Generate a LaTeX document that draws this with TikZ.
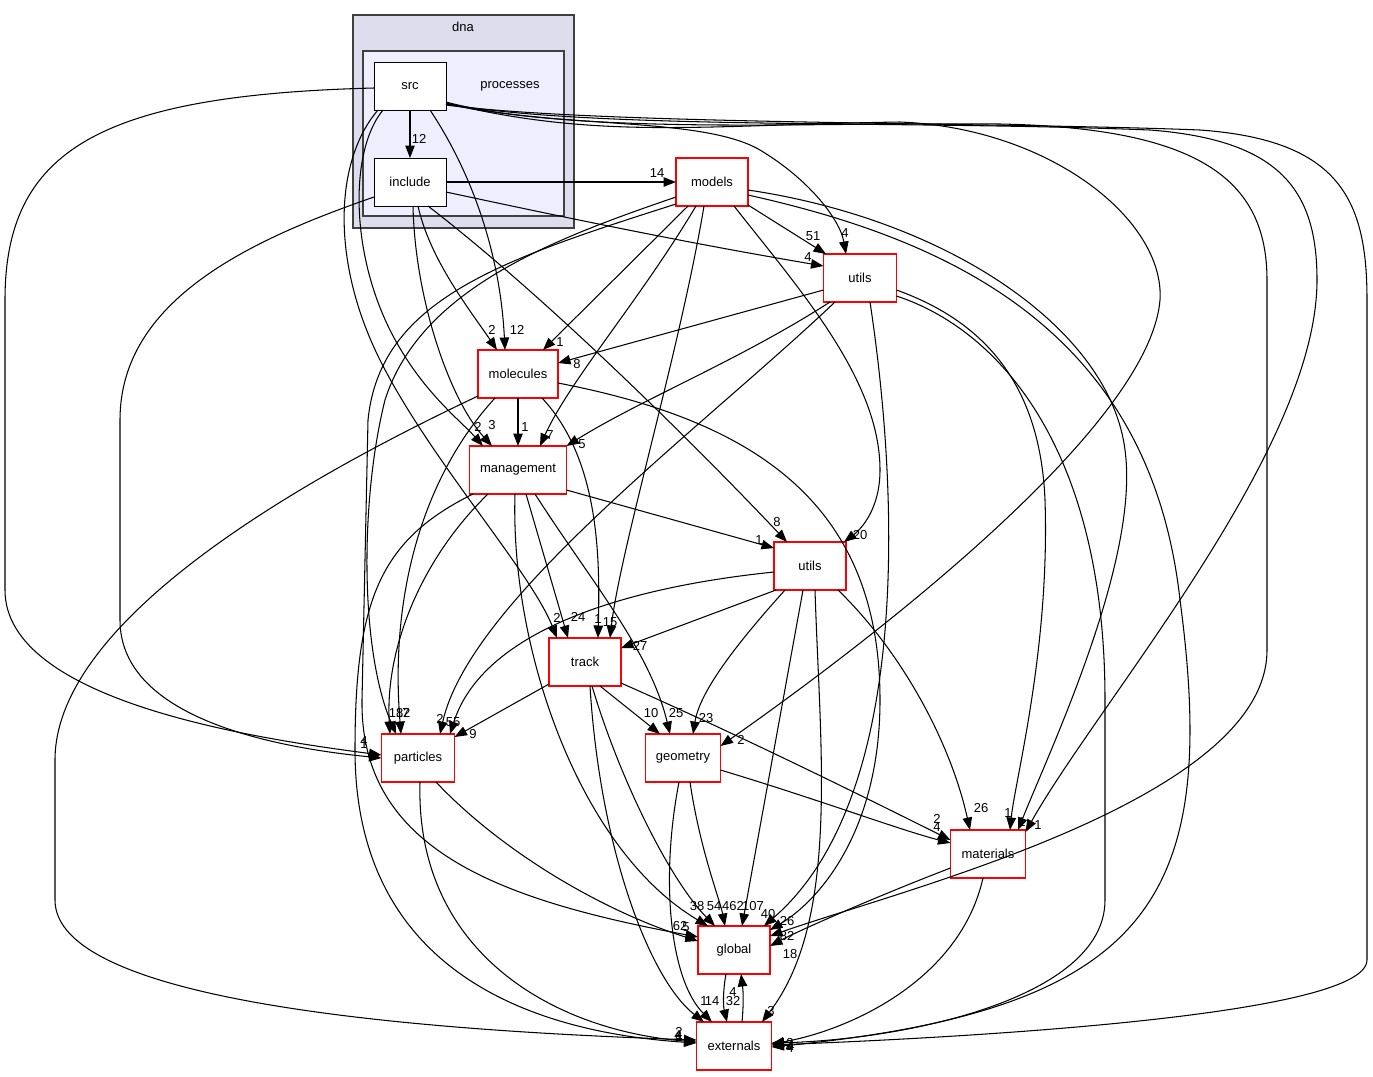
\documentclass[tikz,border=0pt]{standalone}
\usepackage{fontspec}
\setmainfont{Liberation Sans}
\usetikzlibrary{arrows.meta,calc}
\definecolor{dnafill}{HTML}{DDDDEE}
\definecolor{procfill}{HTML}{EEEEFF}
\definecolor{clborder}{HTML}{404040}
\tikzset{
  dirnode/.style={draw=red, fill=white, line width=0.6pt, minimum height=0.96cm, inner sep=1pt, font=\fontsize{7.4}{8}\selectfont},
  srcnode/.style={draw=black, fill=white, line width=0.5pt, minimum width=1.44cm, minimum height=0.96cm, inner sep=1pt, font=\fontsize{7.4}{8}\selectfont},
  cluster/.style={draw=clborder, line width=0.8pt},
  lbl/.style={font=\fontsize{7.4}{8}\selectfont, inner sep=0pt},
  dep/.style={draw=black, line width=0.6pt, -{Triangle[length=0.25cm, width=0.19cm]}},
}
\begin{document}
\begin{tikzpicture}[x=0.02cm, y=-0.02cm]
\useasboundingbox (0,0) rectangle (1373,1076);
\fill[white] (0,0) rectangle (1373,1076);
% clusters
\draw[cluster, fill=dnafill] (353,15) rectangle (574,228);
\node[lbl] (dnalbl) at (463,27) {dna};
\draw[cluster, fill=procfill] (363,51) rectangle (564,216);
\node[lbl] (proclbl) at (510,86) {processes};
% nodes
\node[srcnode] (src) at (410,86) {src};
\node[srcnode] (include) at (410,182) {include};
\node[dirnode, minimum width=1.44cm] (models) at (712,182) {models};
\node[dirnode, minimum width=1.46cm] (utilsT) at (860,278) {utils};
\node[dirnode, minimum width=1.6cm] (molecules) at (518,374) {molecules};
\node[dirnode, minimum width=1.94cm] (management) at (518,470) {management};
\node[dirnode, minimum width=1.44cm] (utilsM) at (810,566) {utils};
\node[dirnode, minimum width=1.44cm] (track) at (585,662) {track};
\node[dirnode, minimum width=1.46cm] (particles) at (418,758) {particles};
\node[dirnode, minimum width=1.5cm] (geometry) at (683,758) {geometry};
\node[dirnode, minimum width=1.5cm] (materials) at (988,854) {materials};
\node[dirnode, minimum width=1.44cm] (global) at (734,950) {global};
\node[dirnode, minimum width=1.5cm] (externals) at (734,1046) {externals};

% edges from src
\draw[dep] ($(src)+(0,24)$) -- ($(include)+(0,-24)$);
\draw[dep] ($(src)+(-36,2)$) .. controls (100,95) and (5,150) .. (5,300) -- (5,590) .. controls (5,700) and (250,738) .. ($(particles)+(-36.5,-3)$);
\draw[dep] ($(src)+(-32,24)$) .. controls (335,160) and (330,260) .. (380,360) .. controls (430,460) and (530,570) .. ($(track)+(-28,-24)$);
\draw[dep] ($(src)+(-27,24)$) .. controls (350,150) and (350,250) .. (390,330) .. controls (420,390) and (460,420) .. ($(management)+(-35,-24)$);
\draw[dep] ($(src)+(20,24)$) .. controls (470,170) and (500,250) .. ($(molecules)+(-13,-24)$);
\draw[dep] ($(src)+(36,16)$) .. controls (550,130) and (700,115) .. (760,150) .. controls (810,180) and (840,220) .. ($(utilsT)+(-14,-24)$);
\draw[dep] ($(src)+(36,17)$) .. controls (600,140) and (700,125) .. (900,122) .. controls (1050,128) and (1165,220) .. (1160,300) .. controls (1150,420) and (900,620) .. ($(geometry)+(37.5,-12)$);
\draw[dep] ($(src)+(36,18)$) .. controls (600,135) and (800,122) .. (1000,124) .. controls (1200,128) and (1267,180) .. (1267,280) -- (1267,650) .. controls (1267,800) and (900,890) .. ($(global)+(36,-14)$);
\draw[dep] ($(src)+(36,18)$) .. controls (600,130) and (900,120) .. (1150,130) .. controls (1280,140) and (1317,190) .. (1317,280) .. controls (1317,450) and (1100,700) .. ($(materials)+(37.5,-22)$);
\draw[dep] ($(src)+(36,19)$) .. controls (600,125) and (1000,122) .. (1200,130) .. controls (1340,140) and (1367,200) .. (1367,300) -- (1367,960) .. controls (1367,1020) and (900,1040) .. ($(externals)+(37.5,-1)$);

% edges from include
\draw[dep] ($(include)+(36,0)$) -- ($(models)+(-36,0)$);
\draw[dep] ($(include)+(-36,15)$) .. controls (250,240) and (120,300) .. (120,420) -- (120,620) .. controls (120,720) and (280,748) .. ($(particles)+(-36.5,0)$);
\draw[dep] ($(include)+(36,10)$) .. controls (600,225) and (700,245) .. ($(utilsT)+(-36.5,-12)$);
\draw[dep] ($(include)+(8,24)$) .. controls (430,260) and (470,310) .. ($(molecules)+(-21,-24)$);
\draw[dep] ($(include)+(3,24)$) .. controls (415,300) and (450,400) .. ($(management)+(-26,-24)$);
\draw[dep] ($(include)+(18,24)$) .. controls (550,300) and (700,450) .. ($(utilsM)+(-23,-24)$);

% edges from models
\draw[dep] ($(models)+(36,23)$) -- ($(utilsT)+(-34,-24)$);
\draw[dep] ($(models)+(-24,24)$) -- ($(molecules)+(25,-24)$);
\draw[dep] ($(models)+(-16,24)$) .. controls (640,300) and (570,380) .. ($(management)+(22,-24)$);
\draw[dep] ($(models)+(-8,24)$) .. controls (680,350) and (620,550) .. ($(track)+(25,-24)$);
\draw[dep] ($(models)+(22,24)$) .. controls (800,290) and (880,380) .. (880,470) .. controls (880,510) and (860,530) .. ($(utilsM)+(34,-24)$);
\draw[dep] ($(models)+(-36,15)$) .. controls (550,240) and (420,290) .. (385,400) .. controls (360,500) and (360,650) .. ($(particles)+(-22,-24)$);
\draw[dep] ($(models)+(36,8)$) .. controls (950,220) and (1110,330) .. (1125,450) .. controls (1140,560) and (1050,750) .. ($(materials)+(30,-24)$);
\draw[dep] ($(models)+(36,13)$) .. controls (950,240) and (1150,330) .. (1180,600) .. controls (1220,900) and (1150,1010) .. ($(externals)+(37.5,1)$);
\draw[dep] ($(models)+(-36,22)$) .. controls (500,260) and (380,300) .. (368,420) -- (362,700) .. controls (360,850) and (500,900) .. ($(global)+(-36,-13)$);

% edges from utils (top)
\draw[dep] ($(utilsT)+(-36.5,12)$) -- ($(molecules)+(40,-11)$);
\draw[dep] ($(utilsT)+(-30,24)$) .. controls (740,360) and (640,400) .. ($(management)+(48.5,-24)$);
\draw[dep] ($(utilsT)+(-25,24)$) .. controls (700,430) and (470,600) .. ($(particles)+(22,-24)$);
\draw[dep] ($(utilsT)+(10,24)$) .. controls (900,500) and (910,800) .. ($(global)+(30,-24)$);
\draw[dep] ($(utilsT)+(36.5,12)$) .. controls (980,320) and (1040,380) .. (1045,500) .. controls (1050,650) and (1015,780) .. ($(materials)+(22,-24)$);
\draw[dep] ($(utilsT)+(36.5,18)$) .. controls (1000,330) and (1105,450) .. (1105,700) -- (1105,900) .. controls (1105,1000) and (900,1040) .. ($(externals)+(37.5,-3)$);

% edges from molecules
\draw[dep] ($(molecules)+(0,24)$) -- ($(management)+(0,-24)$);
\draw[dep] ($(molecules)+(24,24)$) .. controls (600,460) and (600,560) .. ($(track)+(13,-24)$);
\draw[dep] ($(molecules)+(-23,24)$) .. controls (420,480) and (390,600) .. ($(particles)+(-17,-24)$);
\draw[dep] ($(molecules)+(40,9)$) .. controls (750,420) and (880,500) .. (880,700) .. controls (880,830) and (820,900) .. ($(global)+(36,-20)$);
\draw[dep] ($(molecules)+(-40,22)$) .. controls (300,480) and (55,620) .. (55,760) -- (55,900) .. controls (55,1000) and (400,1030) .. ($(externals)+(-37.5,-6)$);

% edges from management
\draw[dep] ($(management)+(48.5,20)$) -- ($(utilsM)+(-36,-18)$);
\draw[dep] ($(management)+(8,24)$) -- ($(track)+(-17,-24)$);
\draw[dep] ($(management)+(17,24)$) .. controls (590,580) and (650,650) .. ($(geometry)+(-13,-24)$);
\draw[dep] ($(management)+(-3,24)$) .. controls (510,650) and (580,850) .. ($(global)+(-26,-24)$);
\draw[dep] ($(management)+(-30,24)$) .. controls (420,560) and (385,650) .. ($(particles)+(-28,-24)$);
\draw[dep] ($(management)+(-45,24)$) .. controls (380,540) and (355,600) .. (355,750) .. controls (355,950) and (500,1030) .. ($(externals)+(-37.5,-3)$);

% edges from utils (mid)
\draw[dep] ($(utilsM)+(-34,24)$) -- ($(track)+(36,-14)$);
\draw[dep] ($(utilsM)+(-36,6)$) .. controls (600,590) and (480,640) .. ($(particles)+(32,-24)$);
\draw[dep] ($(utilsM)+(-25,24)$) .. controls (740,640) and (700,690) .. ($(geometry)+(10,-24)$);
\draw[dep] ($(utilsM)+(-7,24)$) -- ($(global)+(8,-24)$);
\draw[dep] ($(utilsM)+(28,24)$) .. controls (900,650) and (950,740) .. ($(materials)+(-18,-24)$);
\draw[dep] ($(utilsM)+(5,24)$) .. controls (820,750) and (840,920) .. ($(externals)+(28,-24)$);

% edges from track
\draw[dep] ($(track)+(-36,22)$) -- ($(particles)+(36.5,-21)$);
\draw[dep] ($(track)+(15,24)$) -- ($(geometry)+(-23,-24)$);
\draw[dep] ($(track)+(36,21)$) .. controls (750,740) and (870,800) .. ($(materials)+(-37.5,-14)$);
\draw[dep] ($(track)+(7,24)$) .. controls (620,780) and (670,880) .. ($(global)+(-19,-24)$);
\draw[dep] ($(track)+(5,24)$) .. controls (600,850) and (650,980) .. ($(externals)+(-30,-24)$);

% edges from particles
\draw[dep] ($(particles)+(18,24)$) .. controls (500,850) and (600,910) .. ($(global)+(-36,-9)$);
\draw[dep] ($(particles)+(2,24)$) .. controls (415,950) and (550,1030) .. ($(externals)+(-37.5,-4)$);

% edges from geometry
\draw[dep] ($(geometry)+(37.5,12)$) .. controls (820,800) and (900,830) .. ($(materials)+(-37.5,-11)$);
\draw[dep] ($(geometry)+(7,24)$) .. controls (700,850) and (720,900) .. ($(global)+(-9,-24)$);
\draw[dep] ($(geometry)+(-4,24)$) .. controls (660,880) and (670,980) .. ($(externals)+(-22,-24)$);

% edges from materials
\draw[dep] ($(materials)+(-37.5,14)$) .. controls (880,895) and (800,930) .. ($(global)+(36,-4)$);
\draw[dep] ($(materials)+(-5,24)$) .. controls (960,980) and (850,1030) .. ($(externals)+(37.5,-2)$);

% global <-> externals
\draw[dep] ($(global)+(-8,24)$) .. controls (723,990) and (723,1005) .. ($(externals)+(-7,-24)$);
\draw[dep] ($(externals)+(8,-24)$) .. controls (744,1000) and (743,990) .. ($(global)+(7,24)$);

% labels
\node[lbl] (l1) at (419,139) {12};
\node[lbl] (l2) at (657,173) {14};
\node[lbl] (l3) at (813,236) {51};
\node[lbl] (l4) at (845,233) {4};
\node[lbl] (l5) at (808,257) {4};
\node[lbl] (l6) at (492,330) {2};
\node[lbl] (l7) at (517,330) {12};
\node[lbl] (l8) at (560,342) {1};
\node[lbl] (l9) at (577,364) {8};
\node[lbl] (l10) at (478,427) {2};
\node[lbl] (l11) at (492,425) {3};
\node[lbl] (l12) at (525,427) {1};
\node[lbl] (l13) at (550,435) {7};
\node[lbl] (l14) at (582,444) {5};
\node[lbl] (l15) at (777,522) {8};
\node[lbl] (l16) at (759,540) {1};
\node[lbl] (l17) at (860,535) {20};
\node[lbl] (l18) at (557,618) {2};
\node[lbl] (l19) at (578,617) {24};
\node[lbl] (l20) at (598,619) {1};
\node[lbl] (l21) at (610,622) {15};
\node[lbl] (l22) at (640,646) {27};
\node[lbl] (l23) at (396,713) {18};
\node[lbl] (l24) at (403,713) {12};
\node[lbl] (l25) at (406,713) {7};
\node[lbl] (l26) at (440,719) {2};
\node[lbl] (l27) at (453,722) {55};
\node[lbl] (l28) at (473,734) {9};
\node[lbl] (l29) at (364,741) {4};
\node[lbl] (l30) at (364,744) {1};
\node[lbl] (l31) at (651,713) {10};
\node[lbl] (l32) at (676,713) {25};
\node[lbl] (l33) at (706,718) {23};
\node[lbl] (l34) at (741,740) {2};
\node[lbl] (l35) at (937,819) {2};
\node[lbl] (l36) at (937,827) {4};
\node[lbl] (l37) at (981,808) {26};
\node[lbl] (l38) at (1008,813) {1};
\node[lbl] (l39) at (1022,822) {1};
\node[lbl] (l40) at (1038,825) {1};
\node[lbl] (l41) at (697,906) {38};
\node[lbl] (l42) at (714,906) {54};
\node[lbl] (l43) at (733,906) {462};
\node[lbl] (l44) at (753,906) {107};
\node[lbl] (l45) at (768,914) {40};
\node[lbl] (l46) at (787,921) {26};
\node[lbl] (l47) at (787,936) {82};
\node[lbl] (l48) at (790,954) {18};
\node[lbl] (l49) at (680,926) {62};
\node[lbl] (l50) at (686,927) {5};
\node[lbl] (l51) at (704,1001) {1};
\node[lbl] (l52) at (712,1001) {14};
\node[lbl] (l53) at (733,1001) {32};
\node[lbl] (l54) at (733,992) {4};
\node[lbl] (l55) at (771,1011) {3};
\node[lbl] (l56) at (679,1032) {2};
\node[lbl] (l57) at (679,1037) {4};
\node[lbl] (l58) at (678,1035) {4};
\node[lbl] (l59) at (790,1043) {2};
\node[lbl] (l60) at (790,1048) {4};
\node[lbl] (l61) at (789,1045) {2};
\node[lbl] (l62) at (791,1046) {4};
\end{tikzpicture}
\end{document}
